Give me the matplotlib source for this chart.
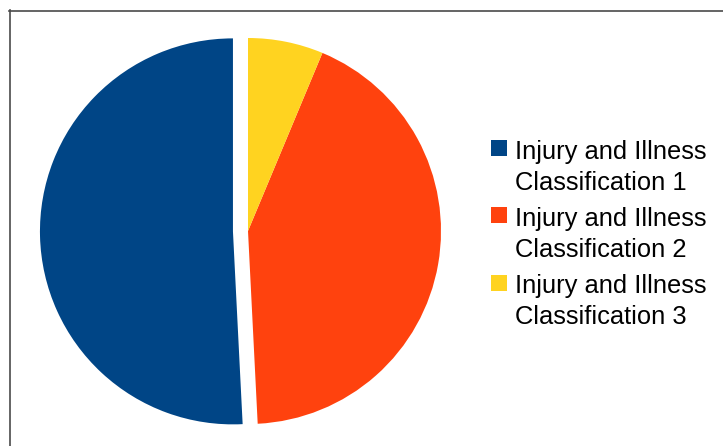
import matplotlib.pyplot as plt
from matplotlib.lines import Line2D
from matplotlib.patches import Rectangle

labels = ['Injury and Illness Classification 1',
          'Injury and Illness Classification 2',
          'Injury and Illness Classification 3']
shares = [50.8, 42.9, 6.3]
colors = ['#004586', '#ff420e', '#ffd320']

W, H = 723, 446
plt.rcParams['font.family'] = ['Liberation Sans', 'DejaVu Sans']

fig = plt.figure(figsize=(W / 100, H / 100), dpi=100)

# pie centre at (248, 231) px, radius 193 px
cx, cy, r = 248, 231, 193
ax = fig.add_axes([0, 0, 1, 1])
ax.pie(shares, colors=colors, startangle=90, counterclock=True,
       explode=[0.078, 0, 0], radius=1,
       wedgeprops=dict(linewidth=0, antialiased=True))
ax.set_xlim((0 - cx) / r, (W - cx) / r)
ax.set_ylim((cy - H) / r, cy / r)
ax.set_aspect('auto')
ax.axis('off')

# frame (left and top edge only visible)
fig.add_artist(Line2D([9.5 / W, 9.5 / W], [0, 1 - 10 / H], color='#4a4a4a', lw=1.2, transform=fig.transFigure))
fig.add_artist(Line2D([9 / W, 1], [1 - 10.5 / H, 1 - 10.5 / H], color='#4a4a4a', lw=1.2, transform=fig.transFigure))

# legend
for i, (lab, col) in enumerate(zip(labels, colors)):
    top = 140 + i * 67.5
    fig.add_artist(Rectangle((491 / W, 1 - (top + 16) / H), 16 / W, 16 / H,
                             color=col, transform=fig.transFigure, lw=0))
    first, second = lab.rsplit(' ', 2)[0], ' '.join(lab.rsplit(' ', 2)[1:])
    base = top + 18.5
    fig.text(515 / W, 1 - base / H, first, fontsize=18.4, va='baseline', ha='left')
    fig.text(515 / W, 1 - (base + 31) / H, second, fontsize=18.4, va='baseline', ha='left')

fig.savefig('out.png', dpi=100)
